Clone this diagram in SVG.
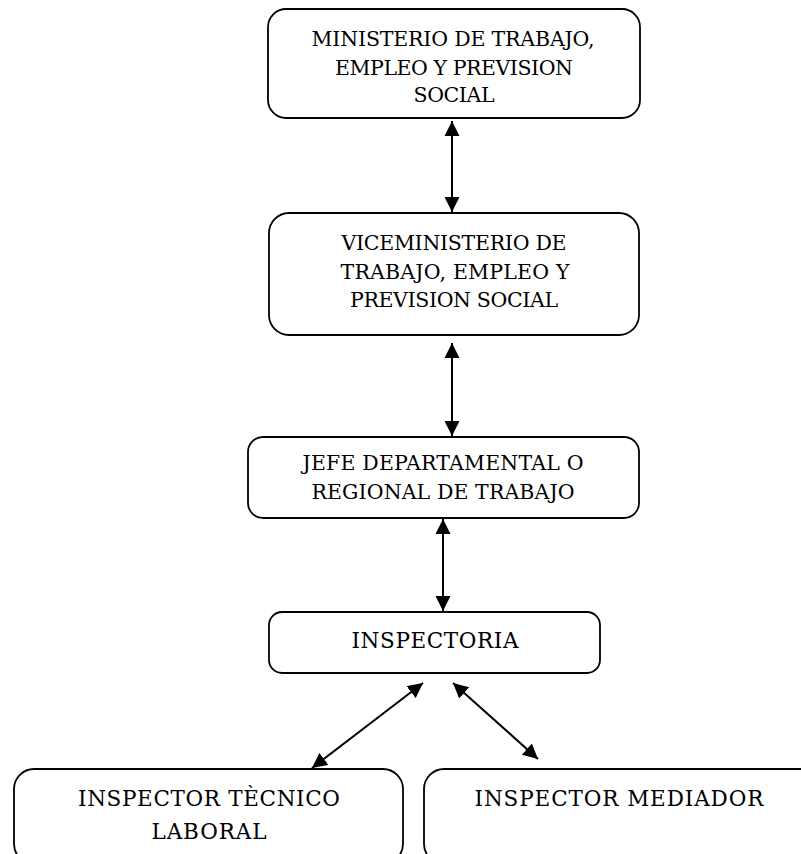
<svg xmlns="http://www.w3.org/2000/svg" width="801" height="854" viewBox="0 0 801 854">
<style>
.box{fill:#fff;stroke:#000;stroke-width:1.8}
.lbl{font-family:"DejaVu Serif","Liberation Serif",serif;font-size:20.5px;fill:#000;text-anchor:middle}
.big{font-size:21.5px}
.con{stroke:#000;stroke-width:2;fill:none;marker-start:url(#ah);marker-end:url(#ah)}
</style>
<defs>
<marker id="ah" viewBox="0 0 10 10" refX="10" refY="5" markerUnits="userSpaceOnUse" markerWidth="15" markerHeight="16" orient="auto-start-reverse">
<path d="M0,0 L10,5 L0,10 z" fill="#000"/>
</marker>
</defs>
<rect width="801" height="854" fill="#fff"/>
<g id="n1">
<rect class="box" x="268" y="9" width="372" height="109" rx="18"/>
<text class="lbl" x="453" y="46" textLength="283" lengthAdjust="spacing">MINISTERIO DE TRABAJO,</text>
<text class="lbl" x="454" y="75" textLength="238" lengthAdjust="spacing">EMPLEO Y PREVISION</text>
<text class="lbl" x="454" y="102" textLength="81" lengthAdjust="spacing">SOCIAL</text>
</g>
<g id="n2">
<rect class="box" x="269" y="213" width="370" height="122" rx="20"/>
<text class="lbl" x="454" y="250" textLength="225" lengthAdjust="spacing">VICEMINISTERIO DE</text>
<text class="lbl" x="455" y="279" textLength="229" lengthAdjust="spacing">TRABAJO, EMPLEO Y</text>
<text class="lbl" x="454" y="307" textLength="208" lengthAdjust="spacing">PREVISION SOCIAL</text>
</g>
<g id="n3">
<rect class="box" x="248" y="437" width="391" height="81" rx="15"/>
<text class="lbl" x="443" y="470" textLength="281" lengthAdjust="spacing">JEFE DEPARTAMENTAL O</text>
<text class="lbl" x="443" y="499" textLength="263" lengthAdjust="spacing">REGIONAL DE TRABAJO</text>
</g>
<g id="n4">
<rect class="box" x="269" y="612" width="331" height="61" rx="13"/>
<text class="lbl big" x="435" y="648" textLength="167" lengthAdjust="spacing">INSPECTORIA</text>
</g>
<g id="n5">
<rect class="box" x="14" y="769" width="389" height="95" rx="20"/>
<text class="lbl big" x="209" y="806" textLength="262" lengthAdjust="spacing">INSPECTOR TÈCNICO</text>
<text class="lbl big" x="209" y="839" textLength="115" lengthAdjust="spacing">LABORAL</text>
</g>
<g id="n6">
<rect class="box" x="424" y="769" width="400" height="95" rx="20"/>
<text class="lbl big" x="619" y="806" textLength="289" lengthAdjust="spacing">INSPECTOR MEDIADOR</text>
</g>
<g id="connectors">
<line class="con" x1="452" y1="121" x2="452" y2="212"/>
<line class="con" x1="452" y1="343" x2="452" y2="436"/>
<line class="con" x1="443" y1="519" x2="443" y2="611"/>
<line class="con" x1="423" y1="683" x2="312" y2="768"/>
<line class="con" x1="453" y1="683" x2="538" y2="759"/>
</g>
</svg>
